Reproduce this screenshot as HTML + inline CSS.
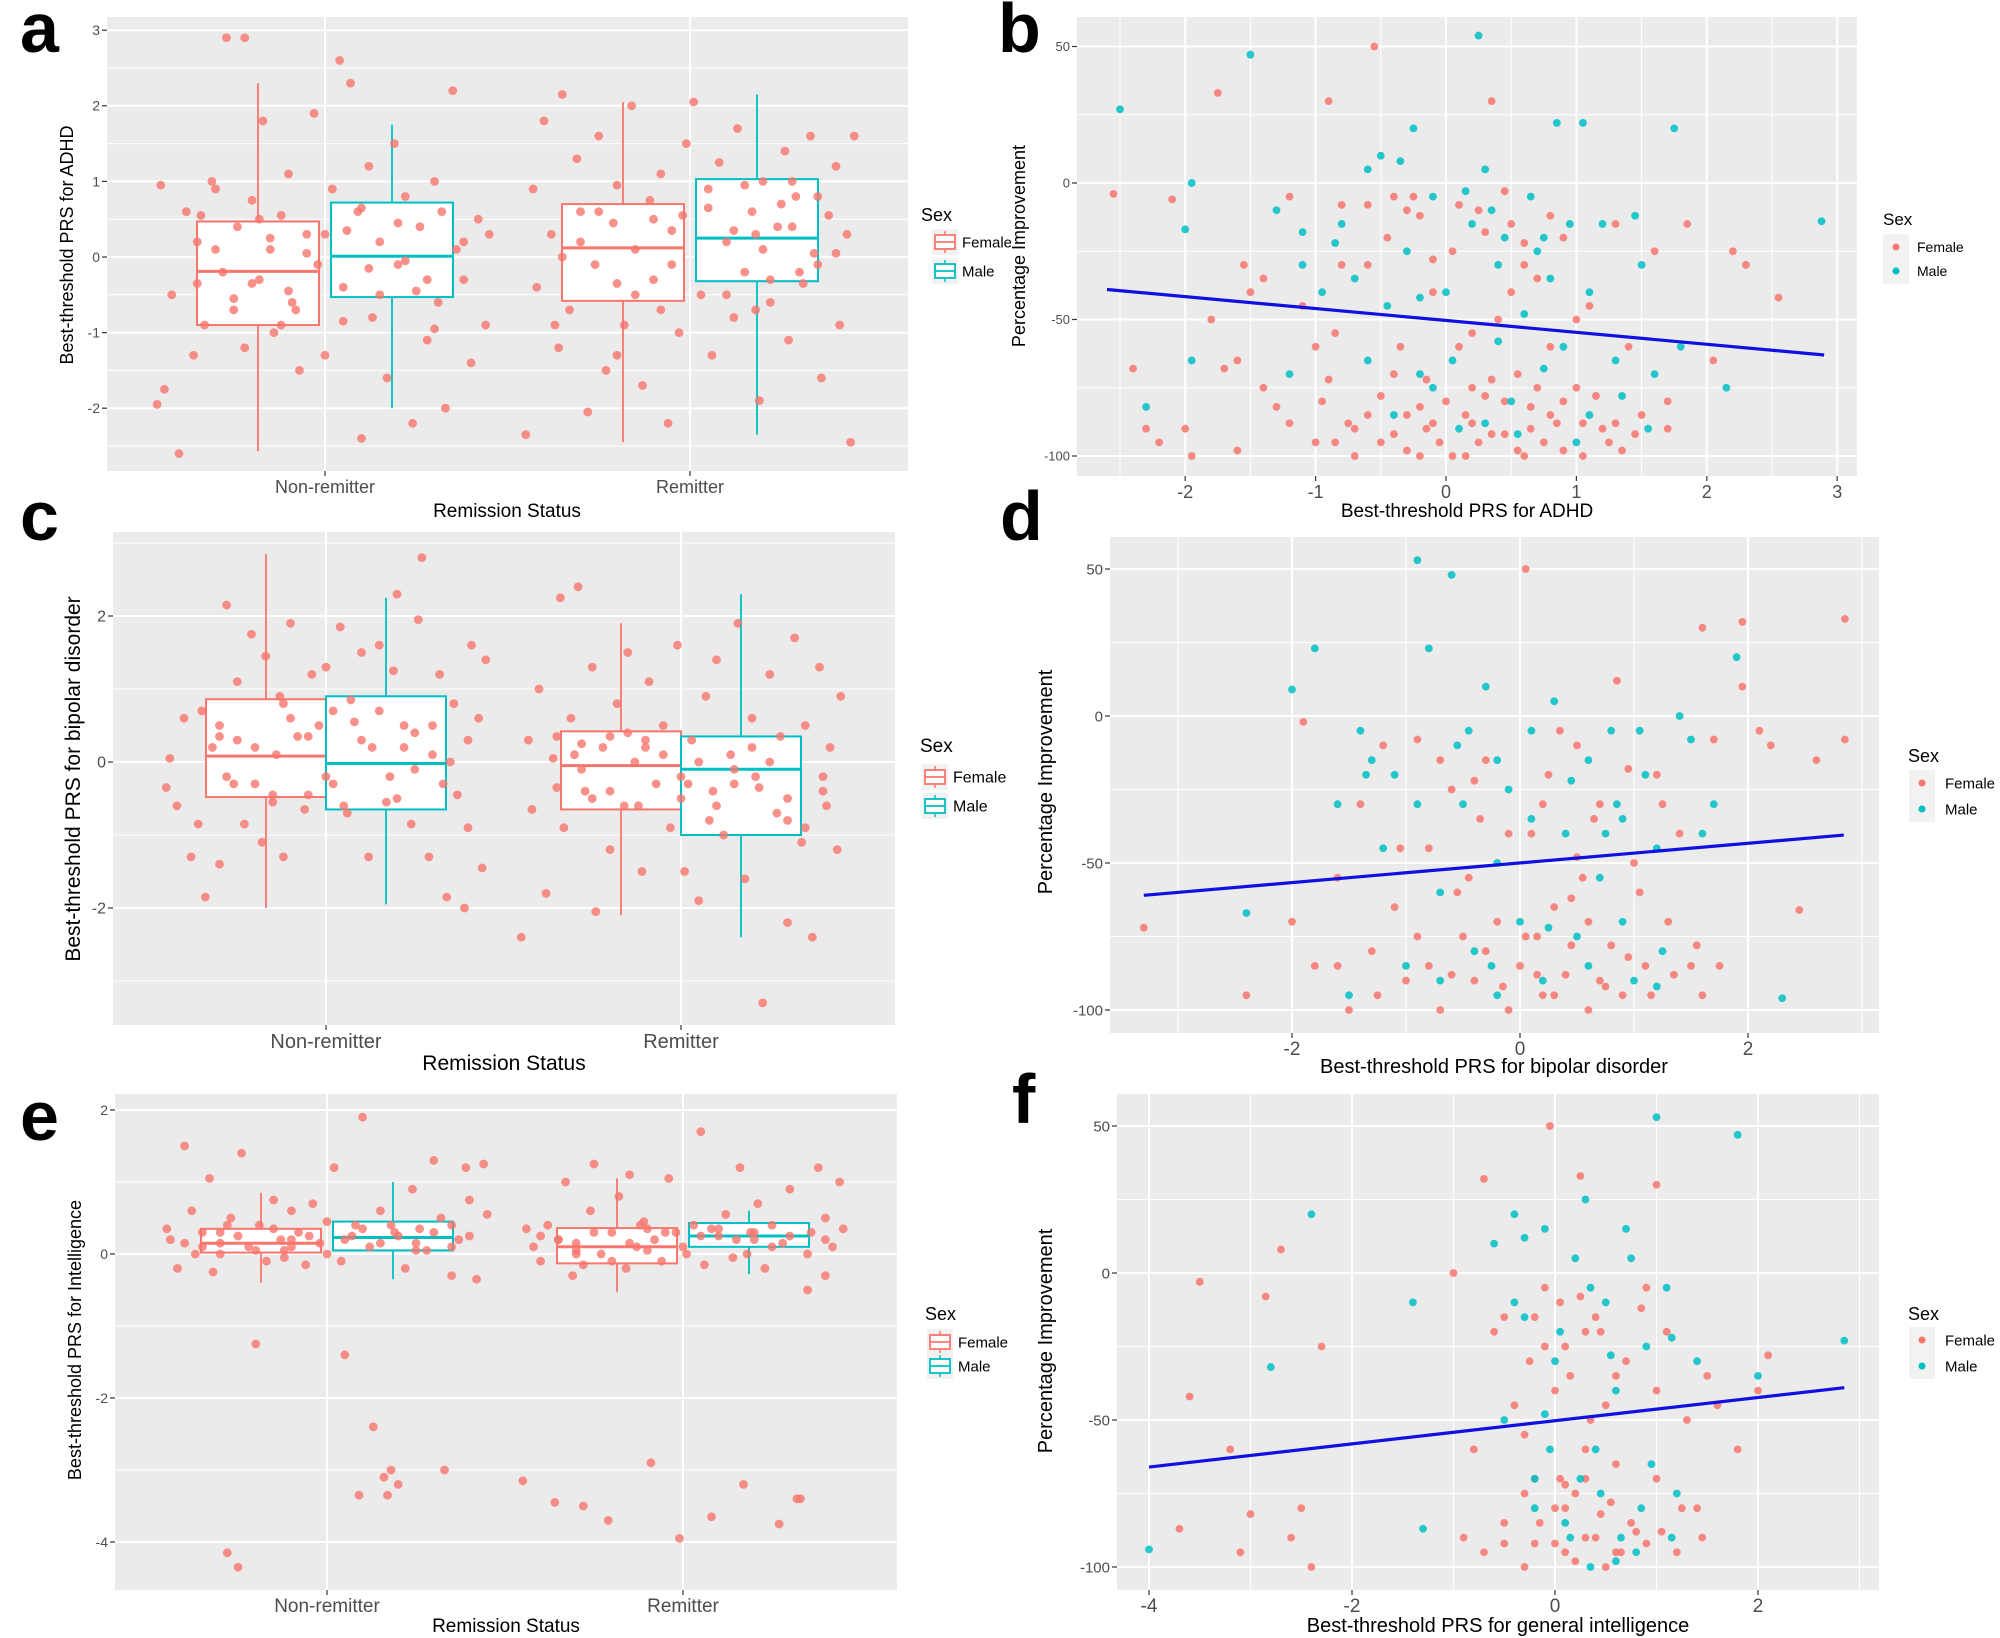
<!DOCTYPE html>
<html><head><meta charset="utf-8">
<style>
html,body{margin:0;padding:0;background:#fff;}
svg{display:block;font-family:"Liberation Sans","DejaVu Sans",sans-serif;}
</style></head>
<body>
<svg id="fig" width="2000" height="1638" viewBox="0 0 2000 1638" xmlns="http://www.w3.org/2000/svg"></svg>
<script>
// ---------- DATA ----------
const categories = ["Non-remitter","Remitter"];
const sexes = ["Female","Male"];
// box stats per group order: NR-F, NR-M, R-F, R-M  as [low, q1, med, q3, high]
const boxA = [[-2.57,-0.9,-0.19,0.47,2.3],[-2.0,-0.53,0.01,0.72,1.75],[-2.45,-0.58,0.12,0.7,2.05],[-2.35,-0.32,0.25,1.03,2.15]];
const boxC = [[-2.0,-0.48,0.08,0.86,2.85],[-1.95,-0.65,-0.02,0.9,2.25],[-2.1,-0.65,-0.05,0.42,1.9],[-2.4,-1.0,-0.1,0.35,2.3]];
const boxE = [[-0.4,0.02,0.15,0.35,0.85],[-0.35,0.05,0.23,0.45,1.0],[-0.53,-0.13,0.1,0.36,1.05],[-0.28,0.1,0.25,0.43,0.6]];
// jittered points: [jitter (category units), value]
const ptsA_NR = [[-0.46,-1.95],[-0.44,-1.75],[-0.45,0.95],[-0.42,-0.5],[-0.4,-2.6],[-0.38,0.6],[-0.36,-1.3],[-0.35,0.2],[-0.33,-0.9],[-0.31,1.0],[-0.3,0.9],[-0.28,-0.2],[-0.27,2.9],[-0.25,-0.7],[-0.24,0.4],[-0.22,2.9],[-0.22,-1.2],[-0.2,0.75],[-0.18,-0.3],[-0.17,1.8],[-0.15,0.1],[-0.14,-1.0],[-0.12,0.55],[-0.1,1.1],[-0.09,-0.6],[-0.07,-1.5],[-0.05,0.3],[-0.03,1.9],[-0.02,-0.1],[0.0,-1.3],[0.02,0.9],[0.04,2.6],[0.05,-0.4],[0.07,2.3],[0.09,0.6],[0.1,-2.4],[0.12,1.2],[0.13,-0.8],[0.15,0.2],[0.17,-1.6],[0.19,1.5],[0.2,-0.1],[0.22,0.8],[0.24,-2.2],[0.26,0.4],[0.28,-1.1],[0.3,1.0],[0.31,-0.6],[0.33,-2.0],[0.35,2.2],[0.36,0.1],[0.38,-0.3],[0.4,-1.4],[0.42,0.5],[0.44,-0.9],[0.45,0.3],[-0.34,0.55],[-0.1,-0.45],[0.06,0.35],[0.25,-0.45],
 [-0.2,-0.35],[-0.15,0.25],[-0.08,-0.7],[0.0,0.3],[-0.25,-0.55],[-0.3,0.1],[0.12,-0.15],[0.2,0.45],[0.28,-0.3],[0.15,-0.5],[-0.12,-0.9],[0.32,0.6],[-0.05,0.05],[0.1,0.65],[0.38,0.2],[-0.35,-0.35],[0.22,-0.05],[-0.18,0.5],[0.05,-0.85],[0.3,-0.95]];
const ptsA_R = [[-0.45,-2.35],[-0.43,0.9],[-0.42,-0.4],[-0.4,1.8],[-0.38,0.3],[-0.36,-1.2],[-0.35,2.15],[-0.33,-0.7],[-0.31,1.3],[-0.3,0.6],[-0.28,-2.05],[-0.26,-0.1],[-0.25,1.6],[-0.23,-1.5],[-0.21,0.45],[-0.2,0.95],[-0.18,-0.9],[-0.16,2.0],[-0.15,0.1],[-0.13,-1.7],[-0.11,0.75],[-0.1,-0.3],[-0.08,1.1],[-0.06,-2.2],[-0.05,0.35],[-0.03,-1.0],[-0.01,1.5],[0.01,2.05],[0.03,-0.5],[0.05,0.9],[0.06,-1.3],[0.08,1.25],[0.1,0.2],[0.12,-0.8],[0.13,1.7],[0.15,-0.2],[0.17,0.6],[0.19,-1.9],[0.2,1.0],[0.22,-0.6],[0.24,0.4],[0.26,1.4],[0.27,-1.1],[0.29,0.8],[0.31,-0.35],[0.33,1.6],[0.34,0.05],[0.36,-1.6],[0.38,0.55],[0.4,1.2],[0.41,-0.9],[0.43,0.3],[0.44,-2.45],[0.45,1.6],[-0.37,-0.9],[0.18,0.3],[0.35,-0.1],[-0.02,0.55],[0.28,1.0],[-0.2,-1.3],
 [-0.3,0.2],[-0.2,-0.35],[-0.1,0.5],[-0.05,-0.1],[0.05,0.65],[0.1,-0.5],[0.15,0.95],[0.2,0.1],[0.25,0.7],[0.3,-0.2],[-0.25,0.6],[-0.15,-0.5],[0.35,0.8],[0.12,0.35],[-0.35,0.0],[0.22,-0.3],[0.4,0.05],[-0.08,-0.7],[0.28,0.4],[0.18,-0.7]];
const ptsC_NR = [[-0.45,-0.35],[-0.44,0.05],[-0.42,-0.6],[-0.4,0.6],[-0.38,-1.3],[-0.36,-0.85],[-0.34,-1.85],[-0.32,0.2],[-0.3,-1.4],[-0.28,2.15],[-0.26,-0.3],[-0.25,1.1],[-0.23,-0.85],[-0.21,1.75],[-0.2,0.2],[-0.18,-1.1],[-0.17,1.45],[-0.15,-0.55],[-0.13,0.9],[-0.12,-1.3],[-0.1,1.9],[-0.08,0.35],[-0.06,-0.65],[-0.04,1.2],[-0.02,0.5],[0.0,1.3],[0.02,-0.3],[0.04,1.85],[0.06,-0.7],[0.08,0.55],[0.1,1.5],[0.12,-1.3],[0.13,0.2],[0.15,1.6],[0.17,-0.55],[0.19,1.25],[0.2,2.3],[0.22,0.5],[0.24,-0.85],[0.26,1.95],[0.27,2.8],[0.29,-1.3],[0.3,0.1],[0.32,1.2],[0.34,-1.85],[0.36,0.8],[0.37,-0.45],[0.39,-2.0],[0.41,1.6],[0.43,0.6],[0.44,-1.45],[0.45,1.4],[-0.05,-0.45],[0.18,-0.2],[0.33,-0.3],[-0.3,0.35],[0.07,0.85],[-0.14,0.1],[0.25,0.4],[0.4,-0.9],
 [-0.3,0.5],[-0.2,-0.3],[-0.1,0.6],[0.0,-0.2],[0.1,0.3],[0.2,-0.5],[0.3,0.5],[-0.25,0.3],[-0.15,-0.45],[0.15,0.7],[0.25,-0.1],[0.35,0.0],[-0.05,0.35],[0.05,-0.6],[-0.35,0.7],[0.4,0.3],[-0.12,0.8],[0.22,0.2],[0.02,0.7],[-0.28,-0.2]];
const ptsC_R = [[-0.45,-2.4],[-0.43,0.3],[-0.42,-0.65],[-0.4,1.0],[-0.38,-1.8],[-0.36,0.05],[-0.34,2.25],[-0.33,-0.9],[-0.31,0.6],[-0.29,2.4],[-0.27,-0.4],[-0.25,1.3],[-0.24,-2.05],[-0.22,0.2],[-0.2,-1.2],[-0.18,0.8],[-0.16,-0.6],[-0.15,1.5],[-0.13,0.0],[-0.11,-1.5],[-0.09,1.1],[-0.07,-0.3],[-0.05,0.5],[-0.03,-0.9],[-0.01,1.6],[0.01,-1.5],[0.03,0.3],[0.05,-1.9],[0.07,0.9],[0.09,-0.4],[0.1,1.4],[0.12,-1.0],[0.14,0.1],[0.16,1.9],[0.18,-1.6],[0.2,0.6],[0.21,-0.2],[0.23,-3.3],[0.25,1.2],[0.27,-0.7],[0.28,0.35],[0.3,-2.2],[0.32,1.7],[0.34,-1.1],[0.35,0.5],[0.37,-2.4],[0.39,1.3],[0.41,-0.6],[0.42,0.2],[0.44,-1.2],[0.45,0.9],[-0.35,-0.35],[-0.2,0.35],[0.0,-0.5],[0.15,-0.3],[0.3,-0.5],[-0.1,0.2],[0.4,-0.2],[-0.28,-0.1],[0.08,-0.8],
 [-0.3,0.1],[-0.2,-0.4],[-0.1,0.3],[0.0,-0.2],[0.1,-0.6],[0.2,0.2],[0.3,-0.8],[-0.25,-0.5],[-0.15,0.4],[0.15,-0.1],[0.25,0.0],[0.35,-0.9],[-0.05,0.1],[0.05,0.0],[-0.35,0.35],[0.4,-0.4],[-0.12,-0.6],[0.22,-0.35],[0.02,-0.3],[-0.28,0.25]];
const ptsE_NR = [[-0.45,0.35],[-0.44,0.2],[-0.42,-0.2],[-0.4,1.5],[-0.38,0.6],[-0.37,0.0],[-0.35,0.3],[-0.33,1.05],[-0.32,-0.25],[-0.3,0.15],[-0.28,-4.15],[-0.27,0.5],[-0.25,-4.35],[-0.24,1.4],[-0.22,0.1],[-0.2,-1.25],[-0.19,0.4],[-0.17,-0.1],[-0.15,0.75],[-0.13,0.2],[-0.12,0.05],[-0.1,0.6],[-0.08,0.3],[-0.06,-0.15],[-0.04,0.7],[-0.02,0.15],[0.0,0.45],[0.02,1.2],[0.04,-0.1],[0.05,-1.4],[0.07,0.25],[0.09,-3.35],[0.1,1.9],[0.12,0.1],[0.13,-2.4],[0.15,0.6],[0.16,-3.1],[0.17,-3.35],[0.18,-3.0],[0.19,0.3],[0.2,-3.2],[0.22,-0.2],[0.24,0.9],[0.26,0.35],[0.28,0.05],[0.3,1.3],[0.32,0.5],[0.33,-3.0],[0.35,-0.3],[0.37,0.2],[0.39,1.2],[0.4,0.75],[0.42,-0.35],[0.44,1.25],[0.45,0.55],[-0.1,0.2],[0.08,0.4],[-0.3,0.3],[0.25,0.15],[0.35,0.4],
 [-0.35,0.1],[-0.3,0.0],[-0.25,0.25],[-0.2,0.05],[-0.15,0.35],[-0.1,0.1],[-0.05,0.25],[0.0,0.0],[0.05,0.2],[0.1,0.35],[0.15,0.15],[0.2,0.25],[0.25,0.05],[0.3,0.3],[0.35,0.1],[-0.4,0.15],[0.4,0.25],[-0.12,-0.05],[0.18,0.4],[-0.28,0.4]];
const ptsE_R = [[-0.45,-3.15],[-0.44,0.35],[-0.42,0.1],[-0.4,-0.1],[-0.38,0.4],[-0.36,-3.45],[-0.35,0.2],[-0.33,1.0],[-0.31,-0.3],[-0.3,0.15],[-0.28,-3.5],[-0.26,0.6],[-0.25,1.25],[-0.23,0.0],[-0.21,-3.7],[-0.2,0.3],[-0.18,0.8],[-0.16,-0.2],[-0.15,1.1],[-0.13,0.1],[-0.11,0.45],[-0.09,-2.9],[-0.08,0.2],[-0.06,-0.1],[-0.04,1.05],[-0.02,0.3],[-0.01,-3.95],[0.01,0.0],[0.03,0.4],[0.05,1.7],[0.06,-0.15],[0.08,-3.65],[0.1,0.25],[0.12,0.55],[0.14,-0.05],[0.16,1.2],[0.17,-3.2],[0.19,0.3],[0.21,0.7],[0.23,-0.2],[0.25,0.4],[0.27,-3.75],[0.28,0.15],[0.3,0.9],[0.32,-3.4],[0.33,-3.4],[0.35,-0.5],[0.36,0.3],[0.38,1.2],[0.4,-0.3],[0.42,0.1],[0.44,1.0],[0.45,0.35],[-0.1,0.35],[0.2,0.2],[0.08,0.35],[-0.3,0.05],[0.4,0.5],
 [-0.35,0.2],[-0.3,0.0],[-0.25,0.3],[-0.2,-0.1],[-0.15,0.15],[-0.1,0.05],[-0.05,0.3],[0.0,0.1],[0.05,0.25],[0.1,0.35],[0.15,0.2],[0.2,0.3],[0.25,0.1],[0.3,0.25],[0.35,0.0],[-0.4,0.25],[0.4,0.2],[-0.12,0.4],[0.18,0.0],[-0.28,-0.15]];
// scatter points [PRS, % improvement]
const ptsB_F = [[-2.55,-4],[-2.4,-68],[-2.3,-90],[-2.2,-95],[-2.1,-6],[-2.0,-90],[-1.95,-100],[-1.8,-50],[-1.75,33],[-1.7,-68],[-1.6,-98],[-1.55,-30],[-1.5,-40],[-1.4,-75],[-1.3,-82],[-1.2,-5],[-1.1,-45],[-1.0,-95],[-0.9,30],[-0.9,-72],[-0.85,-55],[-0.8,-8],[-0.75,-88],[-0.7,-100],[-0.6,-30],[-0.55,50],[-0.5,-78],[-0.45,-20],[-0.4,-92],[-0.35,-60],[-0.3,-85],[-0.25,-5],[-0.2,-100],[-0.15,-72],[-0.1,-40],[-0.05,-95],[0,-80],[0.05,-25],[0.1,-60],[0.15,-100],[0.2,-88],[0.25,-10],[0.3,-78],[0.35,30],[0.4,-50],[0.45,-92],[0.5,-15],[0.55,-70],[0.6,-100],[0.65,-82],[0.7,-35],[0.75,-95],[0.8,-60],[0.85,-88],[0.9,-20],[1.0,-75],[1.05,-100],[1.1,-45],[1.2,-90],[1.3,-15],[1.35,-98],[1.4,-60],[1.5,-85],[1.6,-25],[1.7,-90],[1.85,-15],[2.05,-65],[2.2,-25],[2.3,-30],[2.55,-42],[-1.0,-60],[-0.6,-85],[0.2,-75],[0.6,-30],[-0.3,-10],[0.9,-98],[-1.4,-35],[-0.15,-90],
 [-0.95,-80],[-0.7,-90],[-0.5,-95],[-0.4,-70],[-0.3,-98],[-0.2,-82],[-0.1,-88],[0.05,-100],[0.15,-85],[0.25,-95],[0.35,-72],[0.45,-80],[0.55,-98],[0.65,-90],[0.7,-75],[0.8,-85],[0.9,-80],[1.05,-88],[1.15,-78],[1.25,-95],[1.3,-88],[1.45,-92],[-0.6,-8],[-0.4,-5],[-0.2,-12],[0.1,-8],[0.3,-18],[0.45,-3],[0.6,-22],[0.8,-12],[-0.8,-30],[-0.1,-28],[0.5,-40],[1.0,-50],[0.2,-55],[-1.2,-88],[-1.6,-65],[1.7,-80],[-0.85,-95],[0.35,-92]];
const ptsB_M = [[-2.5,27],[-2.3,-82],[-2.0,-17],[-1.95,0],[-1.95,-65],[-1.5,47],[-1.3,-10],[-1.2,-70],[-1.1,-30],[-0.95,-40],[-0.85,-22],[-0.8,-15],[-0.6,-65],[-0.5,10],[-0.45,-45],[-0.3,-25],[-0.25,20],[-0.2,-70],[-0.1,-5],[0.0,-40],[0.1,-90],[0.2,-15],[0.25,54],[0.3,5],[0.4,-30],[0.5,-80],[0.65,-5],[0.75,-20],[0.85,22],[0.9,-60],[1.0,-95],[1.05,22],[1.1,-40],[1.2,-15],[1.3,-65],[1.5,-30],[1.6,-70],[1.75,20],[1.8,-60],[2.15,-75],[2.88,-14],[0.6,-48],[-0.7,-35],[0.35,-10],
 [-0.4,-85],[-0.1,-75],[0.3,-88],[0.55,-92],[0.75,-68],[1.1,-85],[1.35,-78],[1.55,-90],[-0.6,5],[-0.35,8],[0.15,-3],[0.45,-20],[0.7,-25],[0.95,-15],[-1.1,-18],[0.05,-65],[0.4,-58],[-0.2,-42],[1.45,-12],[0.8,-35]];
const ptsD_F = [[-3.3,-72],[-2.4,-95],[-2.0,-70],[-1.9,-2],[-1.8,-85],[-1.6,-55],[-1.5,-100],[-1.4,-30],[-1.3,-80],[-1.2,-10],[-1.1,-65],[-1.0,-90],[-0.9,-8],[-0.8,-45],[-0.7,-100],[-0.6,-25],[-0.5,-75],[-0.45,-55],[-0.4,-90],[-0.3,-15],[-0.2,-70],[-0.1,-100],[0,-85],[0.05,50],[0.1,-40],[0.2,-95],[0.25,-20],[0.3,-65],[0.4,-88],[0.5,-10],[0.55,-55],[0.6,-100],[0.7,-30],[0.8,-78],[0.85,12],[0.9,-95],[1.0,-50],[1.1,-85],[1.2,-20],[1.3,-70],[1.5,-85],[1.6,-95],[1.7,-8],[1.6,30],[1.95,32],[1.95,10],[2.1,-5],[2.2,-10],[2.45,-66],[2.6,-15],[2.85,33],[2.85,-8],[-0.8,-85],[0.15,-75],[-0.35,-35],[0.45,-62],[1.4,-40],[-1.25,-95],[0.7,-90],
 [-0.9,-75],[-0.6,-88],[-0.3,-80],[-0.15,-92],[0.05,-75],[0.15,-88],[0.3,-95],[0.45,-78],[0.6,-70],[0.75,-92],[0.95,-82],[1.15,-95],[1.35,-88],[1.55,-78],[-0.7,-15],[-0.4,-22],[-0.1,-40],[0.35,-5],[0.65,-35],[0.95,-18],[1.25,-30],[-1.05,-45],[0.2,-30],[-0.55,-60],[1.75,-85],[-1.6,-85],[0.5,-48],[1.05,-60]];
const ptsD_M = [[-2.4,-67],[-2.0,9],[-1.8,23],[-1.6,-30],[-1.5,-95],[-1.4,-5],[-1.3,-15],[-1.2,-45],[-1.0,-85],[-0.9,53],[-0.8,23],[-0.7,-60],[-0.6,48],[-0.55,-10],[-0.5,-30],[-0.4,-80],[-0.3,10],[-0.2,-50],[-0.1,-25],[0.0,-70],[0.1,-5],[0.2,-90],[0.3,5],[0.4,-40],[0.5,-75],[0.6,-15],[0.7,-55],[0.9,-35],[1.0,-90],[1.1,-20],[1.2,-45],[1.4,0],[1.5,-8],[1.7,-30],[1.9,20],[2.3,-96],[0.8,-5],[-1.1,-20],[-0.25,-85],[1.25,-80],
 [-0.7,-90],[-0.2,-95],[0.25,-72],[0.6,-85],[0.9,-70],[1.2,-92],[-0.45,-5],[-0.2,-15],[0.45,-22],[0.85,-30],[1.05,-5],[-0.9,-30],[0.1,-35],[0.75,-40],[-1.35,-20],[1.6,-40]];
const ptsF_F = [[-3.7,-87],[-3.6,-42],[-3.5,-3],[-3.2,-60],[-3.1,-95],[-3.0,-82],[-2.85,-8],[-2.7,8],[-2.6,-90],[-2.5,-80],[-2.3,-25],[-2.4,-100],[-1.0,0],[-0.9,-90],[-0.8,-60],[-0.7,32],[-0.6,-20],[-0.5,-85],[-0.4,-45],[-0.3,-100],[-0.2,-70],[-0.1,-25],[-0.05,50],[0,-80],[0.05,-10],[0.1,-95],[0.15,-35],[0.2,-75],[0.25,33],[0.3,-90],[0.35,-50],[0.4,-15],[0.5,-100],[0.6,-65],[0.7,-30],[0.8,-88],[0.9,-5],[1.0,-70],[1.1,-20],[1.2,-95],[1.3,-50],[1.4,-80],[1.5,-35],[1.6,-45],[1.8,-60],[2.0,-40],[2.1,-28],[-0.25,-30],[0.1,-72],[-0.5,-15],[0.6,-95],[0.0,-40],[0.3,-20],[-0.2,-92],[0.45,-82],[1.0,30],
 [-0.3,-75],[-0.15,-85],[0,-92],[0.1,-80],[0.2,-98],[0.3,-70],[0.4,-90],[0.55,-78],[0.65,-95],[0.75,-85],[0.9,-92],[1.05,-88],[1.25,-80],[1.45,-90],[-0.5,-92],[-0.7,-95],[-0.2,-15],[0.1,-25],[0.25,-8],[0.45,-20],[0.6,-35],[0.85,-12],[1.0,-40],[-0.3,-55],[0.3,-60],[0.05,-70],[-0.1,-5],[0.5,-45]];
const ptsF_M = [[-4.0,-94],[-2.8,-32],[-2.4,20],[-1.4,-10],[-1.3,-87],[-0.6,10],[-0.5,-50],[-0.4,20],[-0.3,-15],[-0.2,-70],[-0.1,15],[0,-30],[0.1,-85],[0.2,5],[0.3,25],[0.4,-60],[0.5,-10],[0.6,-40],[0.7,15],[0.8,-95],[0.9,-25],[1.0,53],[1.1,-5],[1.2,-75],[1.4,-30],[1.8,47],[2.0,-35],[2.85,-23],[0.35,-100],[-0.05,-60],[0.65,-90],
 [-0.2,-80],[0.15,-90],[0.45,-75],[0.6,-98],[0.85,-80],[1.15,-90],[-0.4,-10],[0.05,-20],[0.35,-5],[0.55,-28],[0.75,5],[1.15,-22],[-0.1,-48],[0.25,-70],[0.95,-65],[-0.3,12]];
// regression lines [x1,y1,x2,y2]
const fitB = [-2.6,-39,2.9,-63];
const fitD = [-3.3,-61,2.84,-40.5];
const fitF = [-4.0,-66,2.85,-39];
const ticksA = [-2,-1,0,1,2,3];
const ticksC = [-2,0,2];
const ticksE = [-4,-2,0,2];
const ticksPct = [-100,-50,0,50];
const ticksBx = [-2,-1,0,1,2,3];
const ticksDx = [-2,0,2];
const ticksFx = [-4,-2,0,2];

// ---------- DRAWING ----------
const NS="http://www.w3.org/2000/svg";
const svg=document.getElementById('fig');
const RED="#F8766D", CYAN="#00BFC4", BG="#EBEBEB", TXT="#4D4D4D";
function mk(tag,attrs,parent){const e=document.createElementNS(NS,tag);for(const k in attrs)e.setAttribute(k,attrs[k]);(parent||svg).appendChild(e);return e;}
function txt(s,attrs,name){const t=mk('text',attrs);t.textContent=s;
 
 
 return t;}

function panelLetter(l,x,y){txt(l,{x:x,y:y,'font-size':70,'font-weight':'bold',fill:'#000'},'panel-label-'+l);}

function frame(p,name){
 const g=mk('g',{});
 
 
 const r=mk('rect',{x:p.l,y:p.t,width:p.r-p.l,height:p.b-p.t,fill:BG},g);
 
 
 return g;}
function hline(g,p,y,w){const l=mk('line',{x1:p.l,x2:p.r,y1:y,y2:y,stroke:'#fff','stroke-width':w},g);
 
 }
function vline(g,p,x,w){const l=mk('line',{x1:x,x2:x,y1:p.t,y2:p.b,stroke:'#fff','stroke-width':w},g);
 
 }
function ytick(p,y,label,fs,name){const t=mk('line',{x1:p.l-5,x2:p.l,y1:y,y2:y,stroke:'#333','stroke-width':1.2});
 
 
 txt(label,{x:p.l-7,y:y+fs*0.35,'font-size':fs,fill:TXT,'text-anchor':'end'},name);}
function xtick(p,x,label,fs,dy,name){const t=mk('line',{x1:x,x2:x,y1:p.b,y2:p.b+5,stroke:'#333','stroke-width':1.2});
 
 
 txt(label,{x:x,y:p.b+dy,'font-size':fs,fill:TXT,'text-anchor':'middle'},name);}
function ytitle(s,x,y,fs,name){txt(s,{x:x,y:y,'font-size':fs,fill:'#000','text-anchor':'middle',transform:`rotate(-90 ${x} ${y})`},name);}

function legend(x,sexY,keyX,y1,y2,labX,fs,type,name){
 const g=mk('g',{});
 
 
 txt('Sex',{x:x,y:sexY,'font-size':fs+3,fill:'#000'},'legend-title');
 [[y1,RED,'Female'],[y2,CYAN,'Male']].forEach(([yy,c,lab])=>{
  const bg=mk('rect',{x:keyX-13,y:yy-13,width:26,height:26,fill:'#F2F2F2'},g);
  
  
  if(type==='box'){
   mk('line',{x1:keyX,x2:keyX,y1:yy-11,y2:yy+11,stroke:c,'stroke-width':1.5},g);
   const b=mk('rect',{x:keyX-10,y:yy-7,width:20,height:14,fill:'#fff',stroke:c,'stroke-width':1.8},g);
   
   
   mk('line',{x1:keyX-10,x2:keyX+10,y1:yy,y2:yy,stroke:c,'stroke-width':1.8},g);
  } else {
   const d=mk('circle',{cx:keyX,cy:yy,r:3.5,fill:c},g);
   
   
  }
  txt(lab,{x:labX,y:yy+fs*0.35,'font-size':fs,fill:'#000'},'legend-entry-'+lab.toLowerCase());
 });
}

function boxPanel(cfg){
 const p=cfg.p, ys=v=>cfg.y0-cfg.ky*v, catX=[cfg.c0,cfg.c1], span=cfg.c1-cfg.c0;
 const g=frame(p,cfg.name);
 for(let v=cfg.ymin;v<=cfg.ymax;v+=cfg.step/2){const y=ys(v);if(y>p.t&&y<p.b)hline(g,p,y,Math.abs(v/cfg.step-Math.round(v/cfg.step))<1e-6?2:1);}
 catX.forEach(x=>vline(g,p,x,2));
 cfg.box.forEach((s,i)=>{
  const cx=catX[i>>1]+(i%2===0?-cfg.dodge:cfg.dodge), c=i%2===0?RED:CYAN, hw=cfg.hw;
  const bg=mk('g',{},g);
  
  
  mk('line',{x1:cx,x2:cx,y1:ys(s[0]),y2:ys(s[1]),stroke:c,'stroke-width':1.8},bg);
  mk('line',{x1:cx,x2:cx,y1:ys(s[3]),y2:ys(s[4]),stroke:c,'stroke-width':1.8},bg);
  mk('rect',{x:cx-hw,y:ys(s[3]),width:2*hw,height:ys(s[1])-ys(s[3]),fill:'#fff',stroke:c,'stroke-width':2},bg);
  mk('line',{x1:cx-hw,x2:cx+hw,y1:ys(s[2]),y2:ys(s[2]),stroke:c,'stroke-width':3},bg);
 });
 [cfg.ptsNR,cfg.ptsR].forEach((arr,ci)=>{
  arr.forEach(([j,v])=>{
   const d=mk('circle',{cx:catX[ci]+j*span,cy:ys(v),r:4.4,fill:RED,'fill-opacity':0.8},g);
   
   
  });
 });
 cfg.ticks.forEach(v=>ytick(p,ys(v),String(v),cfg.tfs,'y-tick-label'));
 categories.forEach((c,i)=>xtick(p,catX[i],c,cfg.xfs,cfg.xdy,'x-tick-label'));
}

function scatterPanel(cfg){
 const p=cfg.p, xs=v=>cfg.x0+cfg.kx*v, ys=v=>cfg.y0-cfg.ky*v;
 const g=frame(p,cfg.name);
 for(let v=-125;v<=75;v+=25){const y=ys(v);if(y>p.t&&y<p.b)hline(g,p,y,v%50===0?2:1);}
 for(let v=-6;v<=6;v+=cfg.xstep/2){const x=xs(v);if(x>p.l&&x<p.r)vline(g,p,x,Math.abs(v/cfg.xstep-Math.round(v/cfg.xstep))<1e-6?2:1);}
 [[cfg.ptsF,RED],[cfg.ptsM,CYAN]].forEach(([arr,c])=>{
  arr.forEach(([a,b])=>{
   const d=mk('circle',{cx:xs(a),cy:ys(b),r:3.9,fill:c,'fill-opacity':0.85},g);
   
   
  });
 });
 const f=cfg.fit;
 const ln=mk('line',{x1:xs(f[0]),y1:ys(f[1]),x2:xs(f[2]),y2:ys(f[3]),stroke:'#1010E0','stroke-width':3.2},g);
 
 
 ticksPct.forEach(v=>ytick(p,ys(v),String(v),cfg.tfs,'y-tick-label'));
 cfg.xticks.forEach(v=>xtick(p,xs(v),String(v),cfg.xfs,cfg.xdy,'x-tick-label'));
}

// Panel a
panelLetter('a',20,52);
boxPanel({name:'panel-a',p:{l:107,t:17,r:908,b:471},y0:257,ky:75.6,ymin:-3,ymax:3.5,step:1,c0:325,c1:690,dodge:67,hw:61,box:boxA,ptsNR:ptsA_NR,ptsR:ptsA_R,ticks:ticksA,tfs:14,xfs:18,xdy:22});
ytitle('Best-threshold PRS for ADHD',73,245,18,'y-axis-title');
txt('Remission Status',{x:507,y:517,'font-size':19,fill:'#000','text-anchor':'middle'},'x-axis-title');
legend(921,221,945,242,271,962,15,'box','legend-a');

// Panel b
panelLetter('b',998,52);
scatterPanel({name:'panel-b',p:{l:1077,t:17,r:1857,b:476},x0:1446,kx:130.4,y0:183,ky:2.73,xstep:1,ptsF:ptsB_F,ptsM:ptsB_M,fit:fitB,xticks:ticksBx,tfs:13,xfs:18,xdy:22});
ytitle('Percentage Improvement',1025,246,18,'y-axis-title');
txt('Best-threshold PRS for ADHD',{x:1467,y:517,'font-size':19,fill:'#000','text-anchor':'middle'},'x-axis-title');
legend(1883,225,1896,247,271,1917,14,'dot','legend-b');

// Panel c
panelLetter('c',20,540);
boxPanel({name:'panel-c',p:{l:113,t:532,r:895,b:1025},y0:762,ky:73,ymin:-4,ymax:3,step:2,c0:326,c1:681,dodge:60,hw:60,box:boxC,ptsNR:ptsC_NR,ptsR:ptsC_R,ticks:ticksC,tfs:16,xfs:20,xdy:23});
ytitle('Best-threshold PRS for bipolar disorder',80,779,21,'y-axis-title');
txt('Remission Status',{x:504,y:1070,'font-size':21,fill:'#000','text-anchor':'middle'},'x-axis-title');
legend(920,752,935,777,806,953,16,'box','legend-c');

// Panel d
panelLetter('d',1000,540);
scatterPanel({name:'panel-d',p:{l:1110,t:537,r:1879,b:1033},x0:1520,kx:114,y0:716,ky:2.94,xstep:2,ptsF:ptsD_F,ptsM:ptsD_M,fit:fitD,xticks:ticksDx,tfs:15,xfs:19,xdy:22});
ytitle('Percentage Improvement',1052,782,20,'y-axis-title');
txt('Best-threshold PRS for bipolar disorder',{x:1494,y:1073,'font-size':20,fill:'#000','text-anchor':'middle'},'x-axis-title');
legend(1908,762,1922,783,809,1945,15,'dot','legend-d');

// Panel e
panelLetter('e',20,1140);
boxPanel({name:'panel-e',p:{l:115,t:1094,r:897,b:1590},y0:1254,ky:72,ymin:-5,ymax:2.5,step:2,c0:327,c1:683,dodge:66,hw:60,box:boxE,ptsNR:ptsE_NR,ptsR:ptsE_R,ticks:ticksE,tfs:14,xfs:19,xdy:22});
ytitle('Best-threshold PRS for Intelligence',81,1340,18,'y-axis-title');
txt('Remission Status',{x:506,y:1632,'font-size':19,fill:'#000','text-anchor':'middle'},'x-axis-title');
legend(925,1320,940,1342,1366,958,15,'box','legend-e');

// Panel f
panelLetter('f',1012,1123);
scatterPanel({name:'panel-f',p:{l:1117,t:1094,r:1879,b:1590},x0:1555,kx:101.5,y0:1273,ky:2.94,xstep:2,ptsF:ptsF_F,ptsM:ptsF_M,fit:fitF,xticks:ticksFx,tfs:15,xfs:19,xdy:22});
ytitle('Percentage Improvement',1052,1341,20,'y-axis-title');
txt('Best-threshold PRS for general intelligence',{x:1498,y:1632,'font-size':20,fill:'#000','text-anchor':'middle'},'x-axis-title');
legend(1908,1320,1922,1340,1366,1945,15,'dot','legend-f');
</script>
</body></html>
